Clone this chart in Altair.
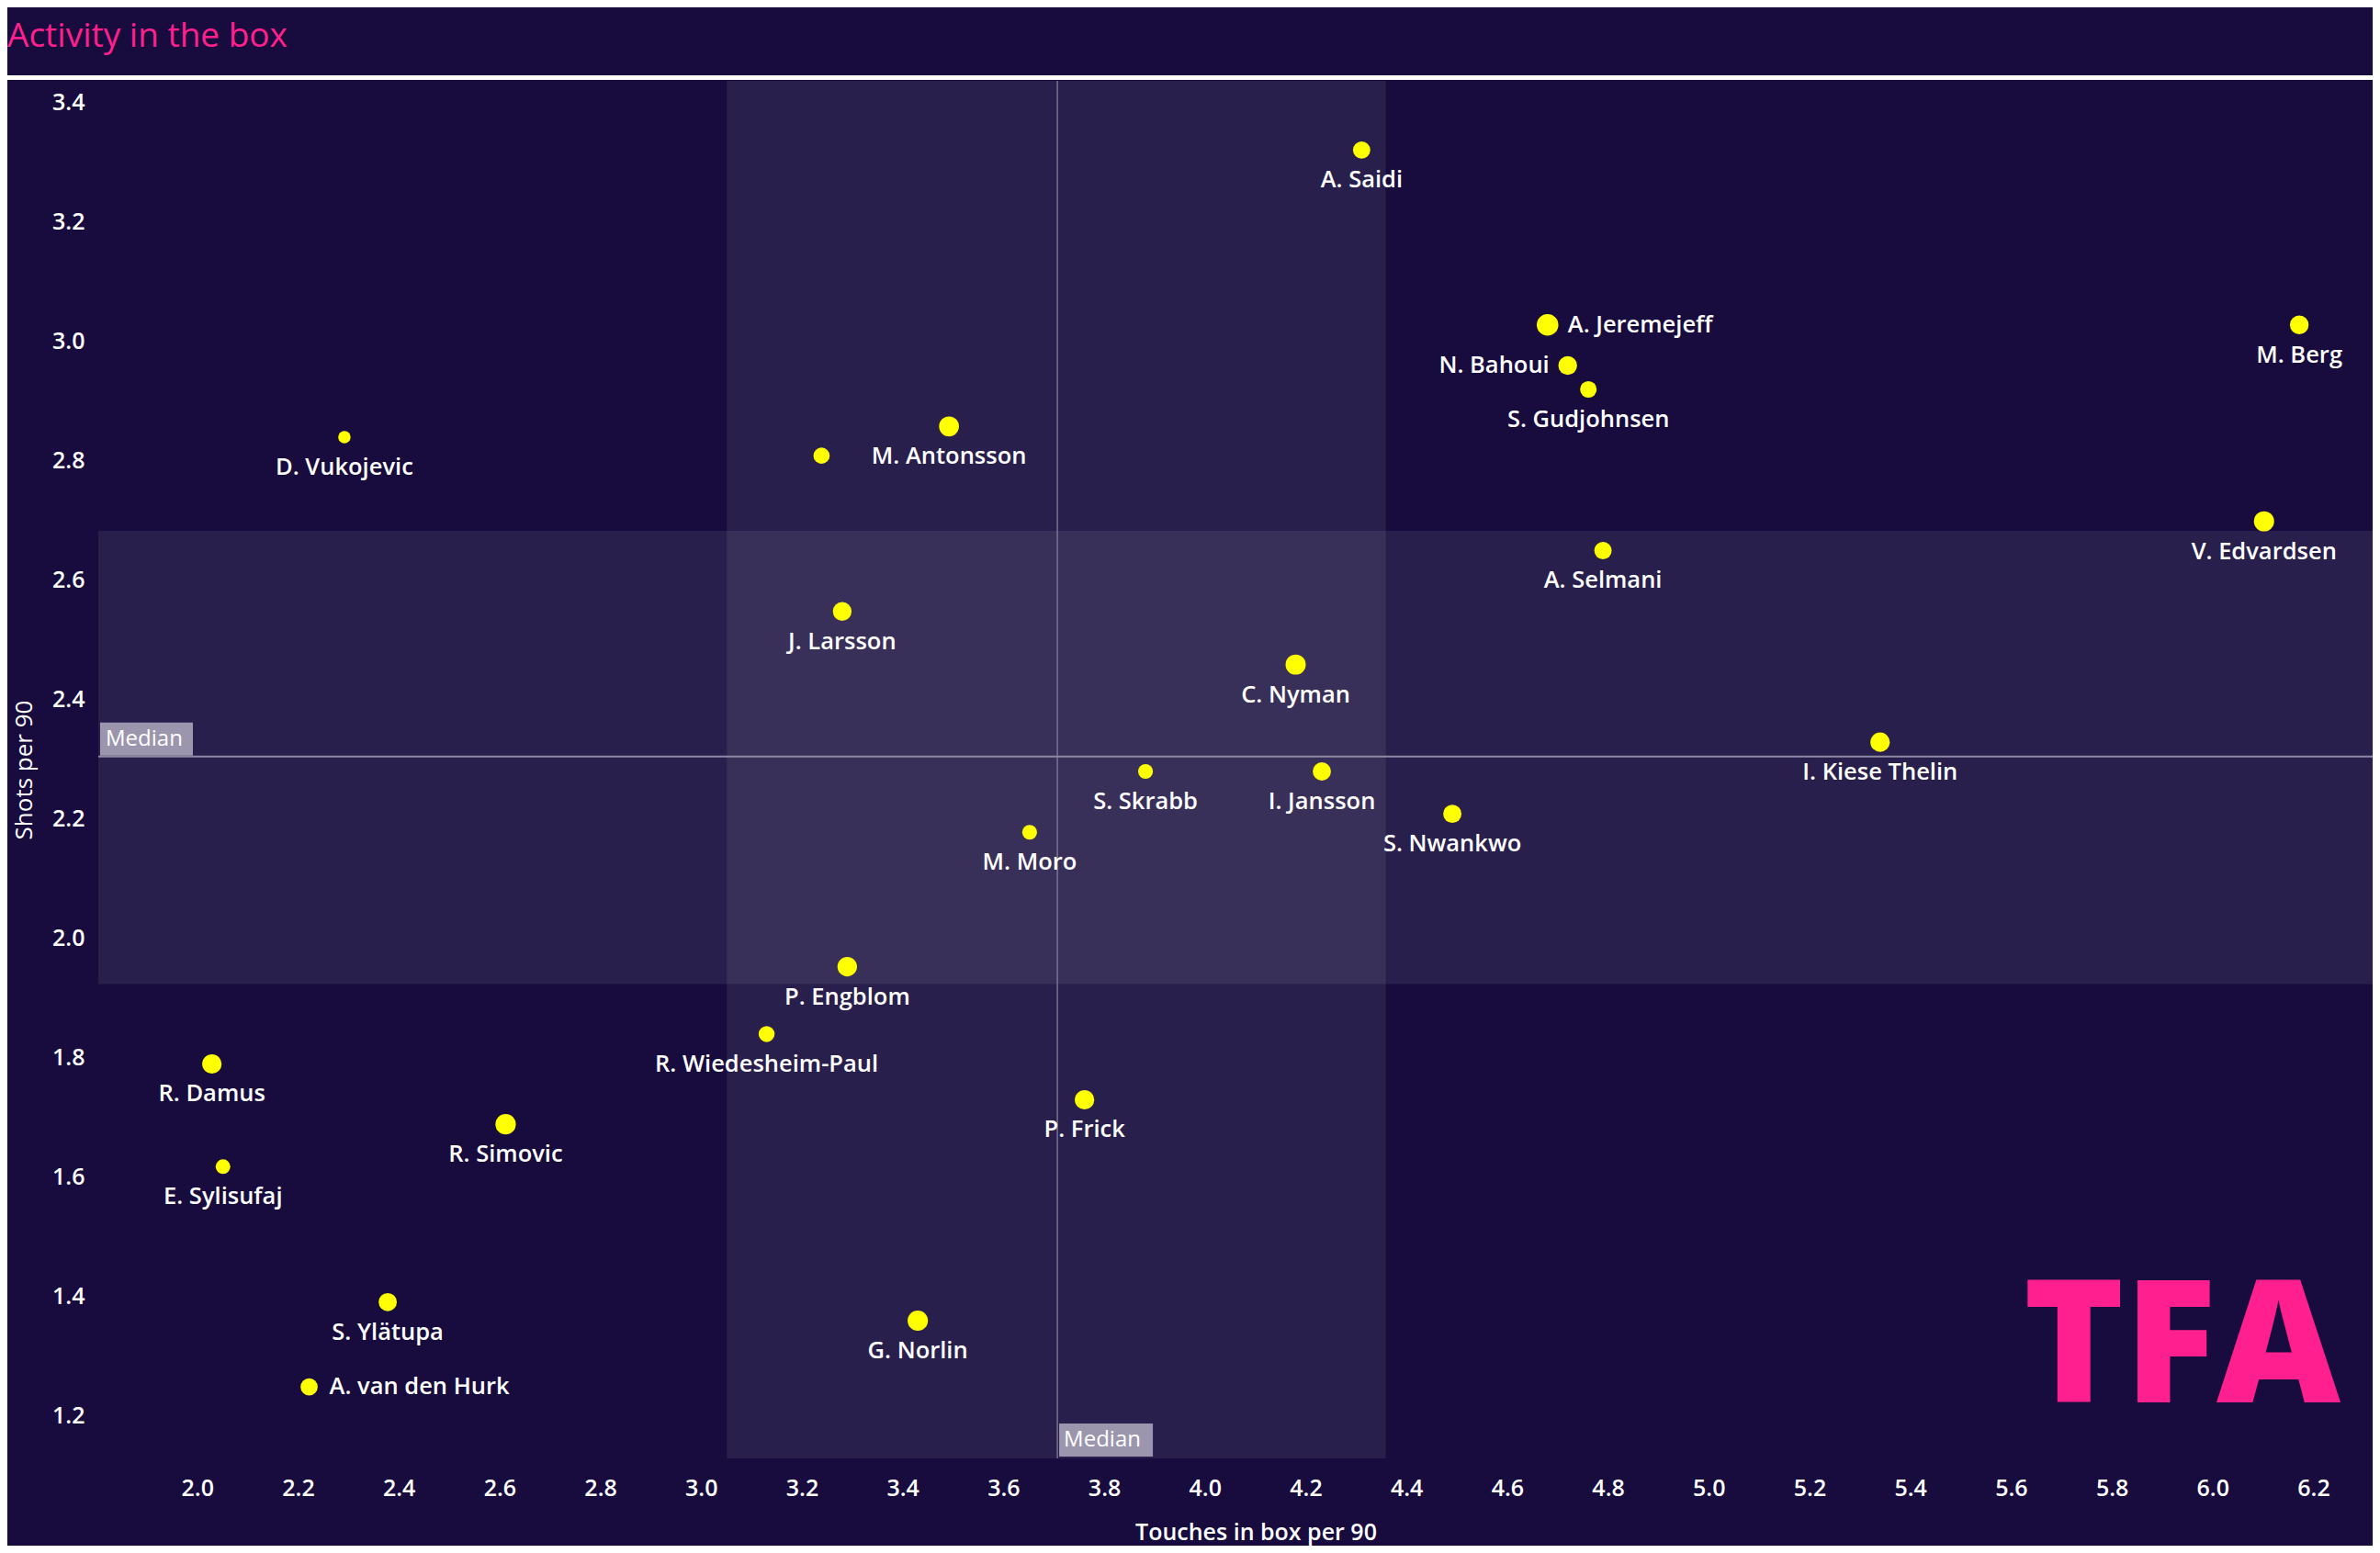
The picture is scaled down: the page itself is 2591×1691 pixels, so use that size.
import altair as alt
import pandas as pd

# ---------------- data ----------------
players = ["A. Saidi", "A. Jeremejeff", "M. Berg", "N. Bahoui", "S. Gudjohnsen",
           "D. Vukojevic", "M. Antonsson", "", "V. Edvardsen", "A. Selmani",
           "J. Larsson", "C. Nyman", "I. Kiese Thelin", "S. Skrabb", "I. Jansson",
           "S. Nwankwo", "M. Moro", "P. Engblom", "R. Wiedesheim-Paul", "R. Damus",
           "P. Frick", "R. Simovic", "E. Sylisufaj", "S. Ylätupa", "G. Norlin",
           "A. van den Hurk"]
touches = [4.311, 4.680, 6.172, 4.720, 4.761, 2.292, 3.492, 3.239, 6.102, 4.790,
           3.280, 4.180, 5.340, 3.882, 4.232, 4.491, 3.652, 3.290, 3.130, 2.029,
           3.761, 2.612, 2.051, 2.378, 3.430, 2.222]
shots = [3.321, 3.028, 3.028, 2.960, 2.920, 2.840, 2.858, 2.809, 2.699, 2.650,
         2.548, 2.459, 2.329, 2.280, 2.280, 2.209, 2.178, 1.953, 1.840, 1.790,
         1.730, 1.689, 1.618, 1.391, 1.360, 1.249]
weight = [21.3, 26.6, 23.0, 23.0, 20.4, 15.3, 24.5, 19.9, 24.8, 21.3,
          23.0, 24.8, 23.9, 18.2, 22.4, 22.4, 18.2, 24.0, 19.6, 23.9,
          23.9, 25.0, 18.0, 22.4, 25.0, 21.0]
label_pos = ["below", "right", "below", "left", "below", "below", "below", "none",
             "below", "below", "below", "below", "below", "below", "below", "below",
             "below", "below", "below", "below", "below", "below", "below", "below",
             "below", "right"]

median_touches = 3.707
median_shots = 2.305
band_touches = [3.051, 4.359]
band_shots = [1.924, 2.683]

x_ticks = [2.0, 2.2, 2.4, 2.6, 2.8, 3.0, 3.2, 3.4, 3.6, 3.8, 4.0, 4.2, 4.4, 4.6,
           4.8, 5.0, 5.2, 5.4, 5.6, 5.8, 6.0, 6.2]
y_ticks = [1.2, 1.4, 1.6, 1.8, 2.0, 2.2, 2.4, 2.6, 2.8, 3.0, 3.2, 3.4]
x_domain = [1.8035, 6.3176]
y_domain = [1.1292, 3.4369]

title_text = "Activity in the box"
x_title = "Touches in box per 90"
y_title = "Shots per 90"

# ---------------- styling ----------------
W, H = 2476, 1500
BG = "#170c3d"
FONT = "Open Sans"

df = pd.DataFrame({"player": players, "touches": touches, "shots": shots,
                   "weight": weight, "pos": label_pos})
band_df = pd.DataFrame({"x1": [band_touches[0]], "x2": [band_touches[1]],
                        "y1": [band_shots[0]], "y2": [band_shots[1]]})
med_df = pd.DataFrame({"mx": [median_touches], "my": [median_shots]})

xs = alt.Scale(domain=x_domain, nice=False, zero=False)
ys = alt.Scale(domain=y_domain, nice=False, zero=False)
x_axis = alt.Axis(values=x_ticks, format=".1f", grid=False, domain=False, ticks=False,
                  labelColor="white", labelFontSize=25, labelFont=FONT, labelFontWeight=600,
                  labelPadding=20, title=x_title, titleColor="white", titleFont=FONT,
                  titleFontSize=25, titleFontWeight=600, titleX=1260, titleY=80,
                  titleBaseline="middle")
y_axis = alt.Axis(values=y_ticks, format=".1f", grid=False, domain=False, ticks=False,
                  labelColor="white", labelFontSize=25, labelFont=FONT, labelFontWeight=600,
                  labelPadding=15, title=y_title, titleColor="white", titleFont=FONT,
                  titleFontSize=26, titleFontWeight=400, titleX=-81, titleY=750,
                  titleBaseline="middle", titleAlign="center", titleAngle=-90)


def X(f):
    return alt.X(f, type="quantitative", scale=xs, axis=x_axis)


def Y(f):
    return alt.Y(f, type="quantitative", scale=ys, axis=y_axis)


vband = alt.Chart(band_df).mark_rect(color="white", opacity=0.08).encode(
    x=X("x1"), x2="x2", y=alt.value(0), y2=alt.value(H))
hband = alt.Chart(band_df).mark_rect(color="white", opacity=0.08).encode(
    y=Y("y1"), y2="y2", x=alt.value(0), x2=alt.value(W))

vrule = alt.Chart(med_df).mark_rule(color="#8a86a0", strokeWidth=1.2).encode(
    x=X("mx"), y=alt.value(0), y2=alt.value(H))
hrule = alt.Chart(med_df).mark_rule(color="#8f8aa3", strokeWidth=2).encode(
    y=Y("my"), x=alt.value(0), x2=alt.value(W))

hbox = alt.Chart(med_df).mark_rect(color="#9b96ae", yOffset=-37, y2Offset=-1).encode(
    y=Y("my"), y2="my", x=alt.value(2), x2=alt.value(103))
htxt = alt.Chart(med_df).mark_text(text="Median", color="white", font=FONT, fontSize=24,
                                   align="left", baseline="middle", dy=-19).encode(
    y=Y("my"), x=alt.value(8))
vbox = alt.Chart(med_df).mark_rect(color="#9b96ae", xOffset=2, x2Offset=104).encode(
    x=X("mx"), x2="mx", y=alt.value(H - 38), y2=alt.value(H - 2))
vtxt = alt.Chart(med_df).mark_text(text="Median", color="white", font=FONT, fontSize=24,
                                   align="left", baseline="middle", dx=7).encode(
    x=X("mx"), y=alt.value(H - 20))

points = alt.Chart(df).mark_circle(color="#ffff00", opacity=1).encode(
    x=X("touches"), y=Y("shots"),
    size=alt.Size("weight:Q", scale=alt.Scale(type="pow", exponent=2, domain=[0, 30],
                                              range=[0, 707]), legend=None))

lab_common = dict(color="white", font=FONT, fontSize=25.5, fontWeight=600, baseline="middle")
lab_below = alt.Chart(df).transform_filter(alt.datum.pos == "below").mark_text(
    align="center", dy=33, **lab_common).encode(x=X("touches"), y=Y("shots"), text="player:N")
lab_right = alt.Chart(df).transform_filter(alt.datum.pos == "right").mark_text(
    align="left", dx=22, **lab_common).encode(x=X("touches"), y=Y("shots"), text="player:N")
lab_left = alt.Chart(df).transform_filter(alt.datum.pos == "left").mark_text(
    align="right", dx=-20, **lab_common).encode(x=X("touches"), y=Y("shots"), text="player:N")

title = alt.Chart(med_df).mark_text(text=title_text, color="#ff1f8e", font=FONT, fontSize=37,
                                    fontWeight=400, align="left", baseline="middle").encode(
    x=alt.value(-99), y=alt.value(-48))
topline = alt.Chart(med_df).mark_rule(color="white", strokeWidth=5).encode(
    x=alt.value(-99), x2=alt.value(W), y=alt.value(-3.5))
logo = alt.Chart(med_df).mark_text(text="TFA", color="#ff1f8e", font=FONT, fontSize=186,
                                   fontWeight=800, align="right", baseline="alphabetic").encode(
    x=alt.value(2441), y=alt.value(1439))

chart = alt.layer(vband, hband, vrule, hrule, hbox, htxt, vbox, vtxt, logo,
                  points, lab_below, lab_right, lab_left, title, topline).properties(
    width=W, height=H,
    autosize=alt.AutoSizeParams(type="none"),
    padding={"left": 99, "top": 80, "right": 0, "bottom": 95},
    background=BG,
).configure_view(stroke=None)

chart.save("out.html", embed_options={"renderer": "svg", "actions": False})
